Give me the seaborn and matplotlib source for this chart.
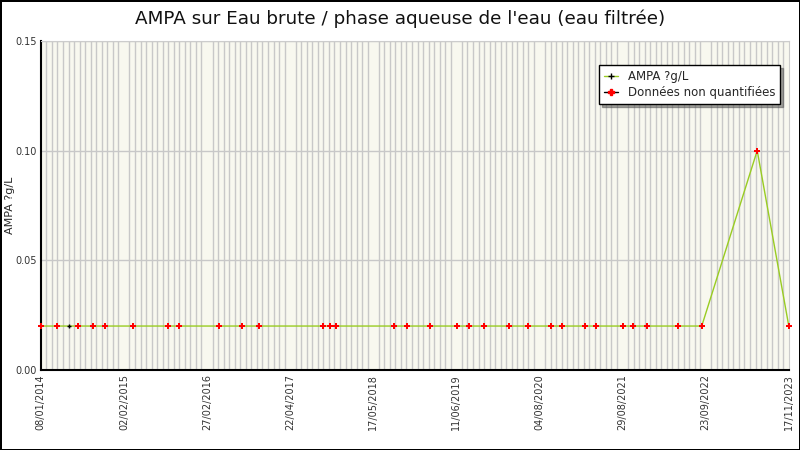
import numpy as np
import pandas as pd
import matplotlib
matplotlib.use("Agg")
import matplotlib.pyplot as plt
import matplotlib.dates as mdates
import seaborn as sns

# données
dates = ["2014-01-08", "2014-03-26", "2014-05-23", "2014-07-05", "2014-09-15", "2014-11-12",
         "2015-03-27", "2015-09-11", "2015-11-03", "2016-05-14", "2016-09-01", "2016-11-22",
         "2017-09-26", "2017-10-30", "2017-11-30", "2018-09-03", "2018-11-05", "2019-02-23",
         "2019-07-03", "2019-08-30", "2019-11-10", "2020-03-09", "2020-06-09", "2020-09-28",
         "2020-11-20", "2021-03-12", "2021-05-02", "2021-09-09", "2021-10-27", "2022-01-03",
         "2022-06-01", "2022-09-24", "2023-06-18", "2023-11-17"]
valeurs = [0.02] * 32 + [0.10, 0.02]
# une seule mesure quantifiée (point noir)
quantifie = [d == "2014-05-23" for d in dates]

tick_labels = ["08/01/2014", "02/02/2015", "27/02/2016", "22/04/2017", "17/05/2018",
               "11/06/2019", "04/08/2020", "29/08/2021", "23/09/2022", "17/11/2023"]

df = pd.DataFrame({"date": pd.to_datetime(dates), "val": valeurs, "quant": quantifie})

sns.set_style("white")
plt.rcParams['font.family'] = ['DejaVu Sans']

fig = plt.figure(figsize=(8, 4.5), dpi=100, edgecolor='black', linewidth=2)
ax = fig.add_axes([0.051, 0.178, 0.935, 0.731])
ax.set_facecolor('#f8f8ef')

sns.lineplot(data=df, x="date", y="val", ax=ax, color='#99cc22', linewidth=1, zorder=3)
sns.scatterplot(data=df[~df.quant], x="date", y="val", ax=ax, marker='P', color='red',
                s=20, edgecolor='red', linewidth=0, zorder=4, clip_on=False)
sns.scatterplot(data=df[df.quant], x="date", y="val", ax=ax, marker='+', color='black',
                s=12, linewidth=1, zorder=4, clip_on=False)

x0 = mdates.date2num(df.date.min())
x1 = mdates.date2num(df.date.max())
ax.set_xlim(x0, x1)
ax.set_ylim(0, 0.15)

ax.set_xticks(np.linspace(x0, x1, len(tick_labels)))
ax.set_xticklabels(tick_labels, rotation=90, fontsize=7, color='#333333')
ax.set_xticks(np.linspace(x0, x1, 136), minor=True)
ax.set_yticks([0, 0.05, 0.10, 0.15])
ax.set_yticklabels(["0.00", "0.05", "0.10", "0.15"], fontsize=7, color='#333333')
ax.set_yticks(np.arange(0, 0.151, 0.0125), minor=True)

ax.tick_params(axis='x', which='both', direction='in', length=5, width=1, color='black', pad=3)
ax.tick_params(axis='y', which='both', direction='in', length=5, width=1, color='black', pad=3)

ax.grid(True, axis='x', which='minor', color='#c8c8c8', linewidth=1)
ax.grid(True, axis='y', which='major', color='#c8c8c8', linewidth=1)
ax.set_axisbelow(True)

for s in ['top', 'right']:
    ax.spines[s].set_color('#cccccc')
for s in ['left', 'bottom']:
    ax.spines[s].set_color('black')
    ax.spines[s].set_linewidth(1.5)

ax.set_xlabel("")
ax.set_ylabel("AMPA ?g/L", fontsize=8)
ax.yaxis.set_label_coords(-0.034, 0.5)
fig.suptitle("AMPA sur Eau brute / phase aqueuse de l'eau (eau filtrée)", fontsize=13.2,
             y=0.978, color='#111111')

h1 = plt.Line2D([], [], color='#99cc22', linewidth=1, marker='+', markeredgecolor='black',
                markersize=4)
h2 = plt.Line2D([], [], color='black', linewidth=1, marker='P', markerfacecolor='red',
                markeredgecolor='red', markersize=4)
leg = ax.legend([h1, h2], ["AMPA ?g/L", "Données non quantifiées"], loc='upper right',
                bbox_to_anchor=(0.996, 0.945), fontsize=8.5, frameon=True, fancybox=False,
                shadow=True, handlelength=1.2, borderpad=0.4, labelspacing=0.3)
leg.get_frame().set_edgecolor('black')
leg.get_frame().set_linewidth(1)
leg.get_frame().set_facecolor('white')
leg.get_frame().set_alpha(1)

fig.savefig("out.png", dpi=100, edgecolor=fig.get_edgecolor())
